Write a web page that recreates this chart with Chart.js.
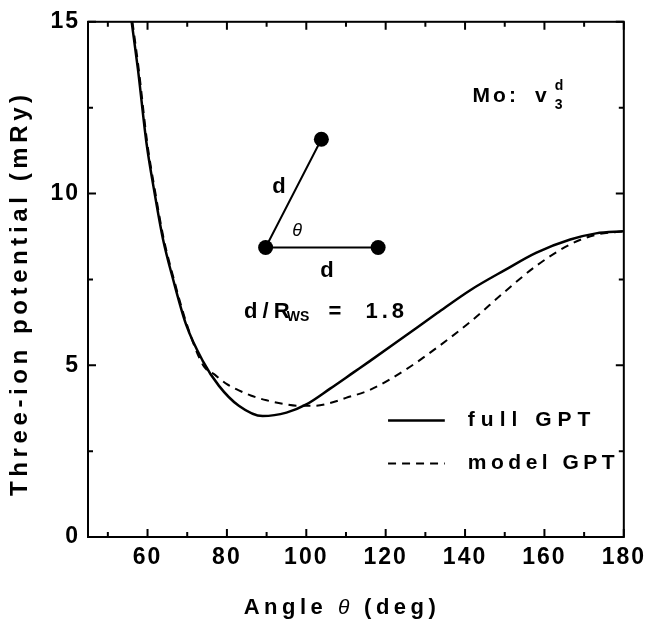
<!DOCTYPE html>
<html>
<head>
<meta charset="utf-8">
<script src="https://cdn.jsdelivr.net/npm/chart.js@4.4.1/dist/chart.umd.min.js"></script>
<style>
  html,body{margin:0;padding:0;background:#fff}
  #wrap{width:650px;height:627px}
</style>
</head>
<body>
<div id="wrap"><canvas id="chart" width="650" height="627"></canvas></div>
<script>
// three-ion potential v3 for Mo, d/Rws = 1.8
const fullAngle=[56,57.6,59.7,61.8,63.9,66.4,69.7,73.9,78,83,89,95,100,106,112,116,125,133,141.5,150,158,166.5,173,180];
const fullPot  =[15,13.6,11.5,10.0,8.67,7.52,6.19,5.13,4.4,3.82,3.52,3.62,3.86,4.32,4.8,5.12,5.86,6.52,7.2,7.77,8.28,8.66,8.84,8.9];
const modelAngle=[56.2,57.8,59.9,62,64.1,66.6,69.9,74,77,80,83,86,90,94,98,102,106,110,116,125,133,141.5,150,158,166.5,173,180];
const modelPot  =[15,13.6,11.5,10.0,8.67,7.52,6.19,5.0,4.72,4.45,4.27,4.12,3.98,3.88,3.82,3.82,3.9,4.05,4.28,4.87,5.52,6.28,7.14,7.9,8.52,8.8,8.9];
const seriesNames=['full GPT','model GPT'];

const xTicks=[50,60,70,80,90,100,110,120,130,140,150,160,170,180];
const xLabels=[60,80,100,120,140,160,180];
const yTicks=[0,2.5,5,7.5,10,12.5,15];
const yLabels=[0,5,10,15];

const FONT='"Liberation Sans", Arial, sans-serif';

function at(chart,a,v){
  return [chart.scales.x.getPixelForValue(a), chart.scales.y.getPixelForValue(v)];
}
function txt(ctx,s,x,y,font,spacing,align,base){
  ctx.font=font; ctx.letterSpacing=(spacing||0)+'px';
  ctx.textAlign=align||'left'; ctx.textBaseline=base||'alphabetic';
  ctx.fillText(s,x,y);
}

const framePlugin={
  id:'frame',
  beforeDraw(chart){ chart.ctx.letterSpacing='2px'; },
  afterDraw(chart){
    const ctx=chart.ctx, {left,right,top,bottom}=chart.chartArea;
    const xs=chart.scales.x, ys=chart.scales.y;
    ctx.save();
    ctx.strokeStyle='#000'; ctx.fillStyle='#000'; ctx.lineWidth=2;
    ctx.beginPath();
    xTicks.forEach(v=>{
      const p=xs.getPixelForValue(v), len=v%20===0?8:5;
      ctx.moveTo(p,bottom); ctx.lineTo(p,bottom-len);
      ctx.moveTo(p,top); ctx.lineTo(p,top+len);
    });
    yTicks.forEach(v=>{
      const p=ys.getPixelForValue(v), len=v%5===0?8:5;
      ctx.moveTo(left,p); ctx.lineTo(left+len,p);
      ctx.moveTo(right,p); ctx.lineTo(right-len,p);
    });
    ctx.stroke();
    ctx.strokeRect(left,top,right-left,bottom-top);

    // axis titles
    let [tx,ty]=at(chart,109,-2.02);
    ctx.font='bold 22px '+FONT; ctx.letterSpacing='4.5px';
    const w1=ctx.measureText('Angle ').width;
    ctx.font='italic 21px '+FONT;
    const w2=ctx.measureText('\u03b8 ').width;
    ctx.font='bold 22px '+FONT;
    const w3=ctx.measureText('(deg)').width;
    let sx=tx-(w1+w2+w3)/2;
    txt(ctx,'Angle ',sx,ty+8,'bold 22px '+FONT,4.5);
    txt(ctx,'\u03b8 ',sx+w1,ty+8,'italic 21px '+FONT,4.5);
    txt(ctx,'(deg)',sx+w1+w2,ty+8,'bold 22px '+FONT,4.5);

    ctx.save();
    ctx.translate(left-68, ys.getPixelForValue(7.1));
    ctx.rotate(-Math.PI/2);
    txt(ctx,'Three-ion potential (mRy)',0,0,'bold 24px '+FONT,4.6,'center','middle');
    ctx.restore();

    // legend
    chart.data.datasets.forEach((ds,i)=>{
      const v=i===0?3.39:2.14;
      const [x0,y0]=at(chart,120.6,v), [x1]=at(chart,134.9,v), [x2]=at(chart,140.7,v);
      ctx.save();
      ctx.lineWidth=ds.borderWidth; ctx.setLineDash(ds.borderDash||[]);
      ctx.beginPath(); ctx.moveTo(x0,y0); ctx.lineTo(x1,y0); ctx.stroke();
      ctx.restore();
      txt(ctx,ds.label,x2,y0,'bold 21px '+FONT,i===0?6:4.5,'left','middle');
    });

    // label Mo: v3^d
    let p=at(chart,141.9,12.66);
    txt(ctx,'Mo:',p[0],p[1],'bold 21px '+FONT,3);
    p=at(chart,157.6,12.66);
    txt(ctx,'v',p[0],p[1],'bold 21px '+FONT,0);
    p=at(chart,162.6,13.0);
    txt(ctx,'d',p[0],p[1],'bold 14px '+FONT,0);
    p=at(chart,162.6,12.47);
    txt(ctx,'3',p[0],p[1],'bold 14px '+FONT,0);

    // triangle sketch
    const A=at(chart,89.75,8.43), B=at(chart,103.8,11.58), C=at(chart,118.1,8.43);
    ctx.lineWidth=2; ctx.setLineDash([]);
    ctx.beginPath(); ctx.moveTo(B[0],B[1]); ctx.lineTo(A[0],A[1]); ctx.lineTo(C[0],C[1]); ctx.stroke();
    [A,B,C].forEach(q=>{ ctx.beginPath(); ctx.arc(q[0],q[1],7.5,0,Math.PI*2); ctx.fill(); });
    p=at(chart,93.1,10.18);
    txt(ctx,'d',p[0],p[1],'bold 22px '+FONT,0,'center','middle');
    p=at(chart,97.7,8.9);
    txt(ctx,'\u03b8',p[0],p[1],'italic 18px '+FONT,0,'center','middle');
    p=at(chart,105.2,7.76);
    txt(ctx,'d',p[0],p[1],'bold 22px '+FONT,0,'center','middle');

    // d / Rws = 1.8
    p=at(chart,84.3,6.39);
    txt(ctx,'d / R',p[0],p[1],'bold 22px '+FONT,-0.5);
    p=at(chart,95.1,6.3);
    txt(ctx,'WS',p[0],p[1],'bold 14px '+FONT,0);
    p=at(chart,105.6,6.39);
    txt(ctx,'=',p[0],p[1],'bold 22px '+FONT,0);
    p=at(chart,114.9,6.39);
    txt(ctx,'1.8',p[0],p[1],'bold 22px '+FONT,4);
    ctx.restore();
  }
};

new Chart(document.getElementById('chart'),{
  type:'line',
  data:{datasets:[
    {label:seriesNames[0],data:fullAngle.map((a,i)=>({x:a,y:fullPot[i]})),
     borderColor:'#000',borderWidth:2.5,pointRadius:0,fill:false,cubicInterpolationMode:'monotone'},
    {label:seriesNames[1],data:modelAngle.map((a,i)=>({x:a,y:modelPot[i]})),
     borderColor:'#000',borderWidth:2,borderDash:[8,6],pointRadius:0,fill:false,cubicInterpolationMode:'monotone'}
  ]},
  options:{
    responsive:false,animation:false,devicePixelRatio:1,
    layout:{padding:{top:11,right:23,left:0,bottom:0}},
    plugins:{legend:{display:false},tooltip:{enabled:false}},
    scales:{
      x:{type:'linear',min:45,max:180,
        afterBuildTicks:s=>{s.ticks=xTicks.map(v=>({value:v}));},
        afterFit:s=>{s.height=90;},
        grid:{display:false,drawTicks:false},border:{display:false},
        ticks:{autoSkip:false,maxRotation:0,padding:7,color:'#000',
          font:{family:FONT,size:23,weight:'bold'},
          callback:v=>xLabels.includes(v)?String(v):''}},
      y:{type:'linear',min:0,max:15,
        afterBuildTicks:s=>{s.ticks=yTicks.map(v=>({value:v}));},
        afterFit:s=>{s.width=88;},
        grid:{display:false,drawTicks:false},border:{display:false},
        ticks:{autoSkip:false,padding:8,color:'#000',
          font:{family:FONT,size:23,weight:'bold'},
          callback:v=>yLabels.includes(v)?String(v):''}}
    }
  },
  plugins:[framePlugin]
});
</script>
</body>
</html>
